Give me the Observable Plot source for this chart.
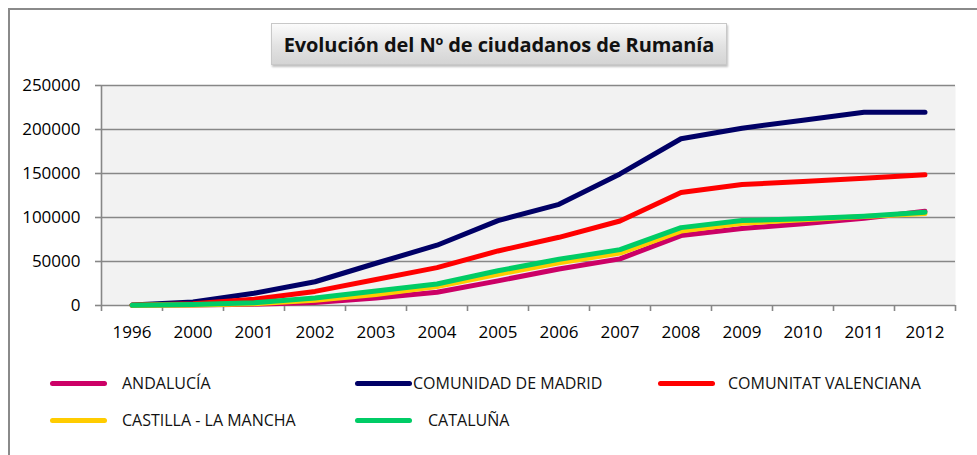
<!DOCTYPE html>
<html>
<head>
<meta charset="utf-8">
<script src="https://cdn.jsdelivr.net/npm/d3@7"></script>
<script src="https://cdn.jsdelivr.net/npm/@observablehq/plot@0.6"></script>
<style>
  html, body { margin: 0; padding: 0; background: #fff; }
  #wrap { position: relative; width: 977px; height: 455px; overflow: hidden; font-family: "Open Sans", sans-serif; }
  #border { position: absolute; left: 8px; top: 8px; width: 1000px; height: 500px; border-left: 2px solid #8a8a8a; border-top: 2px solid #8a8a8a; box-sizing: border-box; }
  #title { position: absolute; left: 271px; top: 23px; width: 456px; height: 42px; box-sizing: border-box;
           background: linear-gradient(#fbfbfb, #e2e2e2 55%, #d4d4d4); border: 1px solid #c8c8c8;
           box-shadow: 1px 2px 2px rgba(0,0,0,0.25);
           display: flex; align-items: center; justify-content: center;
           font-family: "Open Sans", sans-serif; font-weight: bold; font-size: 20px; letter-spacing: -0.1px; color: #111; }
  #chart { position: absolute; left: 0; top: 70px; }
  .leg { position: absolute; display: flex; align-items: center; font-family: "Liberation Sans Narrow", "Open Sans", sans-serif; font-size: 16px; color: #111; white-space: nowrap; }
  .sw { display: inline-block; height: 5px; border-radius: 3px; }
</style>
</head>
<body>
<div id="wrap">
  <div id="border"></div>
  <div id="title">Evolución del Nº de ciudadanos de Rumanía</div>
  <div id="chart"></div>
</div>
<script>
const years = ["1996","2000","2001","2002","2003","2004","2005","2006","2007","2008","2009","2010","2011","2012"];
const seriesNames = ["ANDALUCÍA","COMUNIDAD DE MADRID","COMUNITAT VALENCIANA","CASTILLA - LA MANCHA","CATALUÑA"];
const seriesColors = ["#cc0066","#000066","#ff0000","#ffcc00","#00cc66"];
const andalucia  = [300, 600, 1500, 3500, 8500, 15000, 28000, 41500, 53000, 79500, 87500, 93000, 99000, 107000];
const madrid     = [500, 4000, 14000, 27000, 48000, 68500, 96500, 115000, 149500, 189500, 201500, 210500, 219500, 219500];
const valenciana = [300, 2000, 7000, 16000, 29500, 43000, 62000, 77500, 96000, 128500, 137500, 141000, 144500, 148500];
const castilla   = [200, 700, 2000, 6000, 12500, 21500, 35500, 48500, 59500, 84500, 93500, 97500, 101000, 104500];
const cataluna   = [300, 1000, 3000, 8500, 16500, 24500, 39500, 52500, 63500, 88500, 96500, 98500, 101500, 106000];
const yTicks = [0, 50000, 100000, 150000, 200000, 250000];

const seriesValues = [andalucia, madrid, valenciana, castilla, cataluna];
const rows = [];
seriesNames.forEach((name, s) => seriesValues[s].forEach((v, i) => rows.push({series: name, i, value: v})));

const grid = "#878787";
const idx = d3.range(years.length);
const bounds = d3.range(years.length + 1).map(i => i - 0.5);

const plot = Plot.plot({
  width: 977,
  height: 280,
  marginLeft: 101,
  marginRight: 22,
  marginTop: 15,
  marginBottom: 45,
  style: {fontFamily: "Open Sans, sans-serif", fontSize: "17px", color: "#000", background: "transparent", overflow: "visible"},
  x: {type: "linear", domain: [-0.5, years.length - 0.5]},
  y: {domain: [0, 250000]},
  color: {domain: seriesNames, range: seriesColors},
  marks: [
    Plot.frame({fill: "#f2f2f2", stroke: null}),
    Plot.gridY(yTicks, {stroke: grid, strokeOpacity: 1, strokeWidth: 1.6}),
    Plot.ruleX([-0.5], {stroke: grid, strokeWidth: 1.6}),
    Plot.axisY(yTicks, {tickSize: 6, tickPadding: 15, stroke: grid, strokeWidth: 1.6, tickFormat: d => String(d), label: null, fill: "#000"}),
    Plot.axisX(bounds, {tickSize: 6, stroke: grid, strokeWidth: 1.6, tickFormat: () => "", label: null}),
    Plot.axisX(idx, {tickSize: 0, tickPadding: 20, tickFormat: i => years[i], label: null, fill: "#000"}),
    Plot.line(rows, {x: "i", y: "value", z: "series", stroke: "series", strokeWidth: 5, strokeLinecap: "round", strokeLinejoin: "round"})
  ]
});
document.getElementById("chart").appendChild(plot);

// legend
const legendLayout = [
  {sw: 50, tx: 122, y: 383},
  {sw: 355, tx: 413, y: 383},
  {sw: 658, tx: 728, y: 383},
  {sw: 50, tx: 122, y: 420},
  {sw: 355, tx: 428, y: 420}
];
const wrap = document.getElementById("wrap");
seriesNames.forEach((name, s) => {
  const L = legendLayout[s];
  const sw = document.createElement("div");
  sw.className = "sw";
  sw.style.position = "absolute";
  sw.style.left = L.sw + "px";
  sw.style.top = (L.y - 2.5) + "px";
  sw.style.width = "57px";
  sw.style.background = seriesColors[s];
  wrap.appendChild(sw);
  const t = document.createElement("div");
  t.className = "leg";
  t.style.left = L.tx + "px";
  t.style.top = (L.y - 10) + "px";
  t.style.height = "20px";
  t.textContent = name;
  wrap.appendChild(t);
});
</script>
</body>
</html>
